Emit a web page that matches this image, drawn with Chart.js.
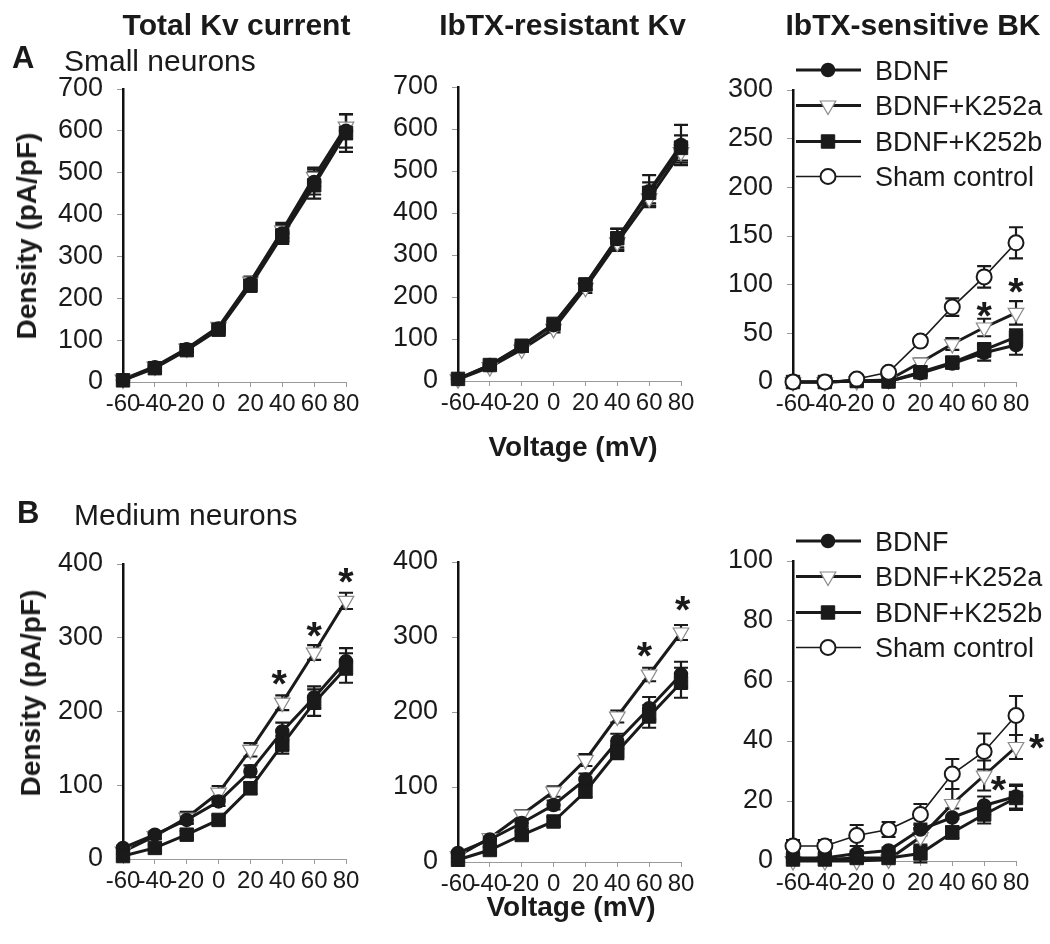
<!DOCTYPE html>
<html><head><meta charset="utf-8">
<script src="https://cdn.jsdelivr.net/npm/chart.js@4.4.1/dist/chart.umd.min.js"></script>
<style>
html,body{margin:0;padding:0;background:#fff;}
#fig{position:relative;width:1050px;height:944px;overflow:hidden;background:#fff;font-family:"Liberation Sans",Arial,Helvetica,sans-serif;color:#1a1a1a;}
#fig canvas{position:absolute;}
.t{position:absolute;white-space:nowrap;line-height:1;margin:0;}
.b{font-weight:bold;}
</style></head><body>
<div id="fig">
<canvas id="cA1"></canvas><canvas id="cA2"></canvas><canvas id="cA3"></canvas>
<canvas id="cB1"></canvas><canvas id="cB2"></canvas><canvas id="cB3"></canvas>
<div class="t b" style="font-size:30px;left:236.5px;top:9.6px;transform:translateX(-50%);">Total Kv current</div>
<div class="t b" style="font-size:30px;left:562.5px;top:9.6px;transform:translateX(-50%);">IbTX-resistant Kv</div>
<div class="t b" style="font-size:30px;left:913px;top:9.6px;transform:translateX(-50%);">IbTX-sensitive BK</div>
<div class="t b" style="font-size:31px;left:12px;top:41.8px;">A</div>
<div class="t" style="font-size:30px;left:64px;top:45.6px;">Small neurons</div>
<div class="t b" style="font-size:31px;left:17px;top:496.8px;">B</div>
<div class="t" style="font-size:30px;left:74px;top:499.6px;">Medium neurons</div>
<div class="t b" style="font-size:28px;left:26.8px;top:236px;transform:translate(-50%,-50%) rotate(-90deg);">Density (pA/pF)</div>
<div class="t b" style="font-size:28px;left:31.3px;top:693px;transform:translate(-50%,-50%) rotate(-90deg);">Density (pA/pF)</div>
<div class="t b" style="font-size:28px;left:573px;top:433.3px;transform:translateX(-50%);">Voltage (mV)</div>
<div class="t b" style="font-size:28px;left:571px;top:893.3px;transform:translateX(-50%);">Voltage (mV)</div>
</div>
<script>
// ---------- data ----------
const voltages = [-60, -40, -20, 0, 20, 40, 60, 80];
const xTicks = [-60, -40, -20, 0, 20, 40, 60, 80];
const seriesNames = ['BDNF', 'BDNF+K252a', 'BDNF+K252b', 'Sham control'];

const yTicksKv = [0, 100, 200, 300, 400, 500, 600, 700];
const yTicksBKsmall = [0, 50, 100, 150, 200, 250, 300];
const yTicksMedium = [0, 100, 200, 300, 400];
const yTicksBKmedium = [0, 20, 40, 60, 80, 100];

// A, small neurons: total Kv current
const smallTotal_BDNF = [5, 35, 78, 128, 235, 355, 478, 600];
const smallTotal_BDNF_err = [3, 4, 6, 8, 12, 20, 30, 40];
const smallTotal_K252a = [6, 37, 80, 132, 240, 362, 490, 610];
const smallTotal_K252a_err = [3, 4, 6, 8, 12, 18, 22, 30];
const smallTotal_K252b = [4, 33, 76, 125, 230, 350, 470, 595];
const smallTotal_K252b_err = [3, 4, 6, 8, 12, 20, 32, 45];

// A, small neurons: IbTX-resistant Kv
const smallRes_BDNF = [5, 38, 82, 133, 229, 338, 452, 562];
const smallRes_BDNF_err = [3, 4, 6, 8, 12, 25, 38, 48];
const smallRes_K252a = [4, 33, 75, 124, 222, 330, 435, 545];
const smallRes_K252a_err = [3, 4, 6, 8, 12, 20, 18, 25];
const smallRes_K252b = [5, 38, 84, 136, 230, 340, 448, 555];
const smallRes_K252b_err = [3, 4, 6, 8, 12, 22, 25, 30];

// A, small neurons: IbTX-sensitive BK
const smallBK_BDNF = [0, 0, 1, 0.5, 9, 19, 30, 38];
const smallBK_BDNF_err = [0, 0, 0, 0, 3, 5, 8, 10];
const smallBK_K252a = [0, 0, 1, 2, 20, 39, 56, 71];
const smallBK_K252a_err = [0, 0, 0, 1, 4, 6, 9, 12];
const smallBK_K252b = [0, 0, 1, 0.5, 10, 20, 33, 46];
const smallBK_K252b_err = [0, 0, 0, 0, 3, 5, 7, 8];
const smallBK_Sham = [0, 0, 3, 10, 42, 77, 108, 143];
const smallBK_Sham_err = [1, 1, 1, 2, 4, 9, 11, 16];
const smallBK_stars = [[60, 75], [80, 99]];

// B, medium neurons: total Kv current
const medTotal_BDNF = [15, 33, 53, 78, 119, 173, 219, 268];
const medTotal_BDNF_err = [3, 4, 5, 6, 8, 12, 15, 18];
const medTotal_K252a = [10, 31, 56, 90, 148, 212, 280, 350];
const medTotal_K252a_err = [3, 4, 8, 9, 9, 10, 10, 11];
const medTotal_K252b = [4, 15, 33, 53, 96, 155, 212, 259];
const medTotal_K252b_err = [3, 4, 5, 6, 8, 12, 18, 20];
const medTotal_stars = [[38, 246], [60, 311], [80, 384]];

// B, medium neurons: IbTX-resistant Kv
const medRes_BDNF = [12, 30, 52, 76, 110, 161, 205, 250];
const medRes_BDNF_err = [3, 4, 5, 6, 8, 10, 15, 17];
const medRes_K252a = [8, 32, 63, 94, 136, 194, 250, 306];
const medRes_K252a_err = [3, 4, 6, 7, 8, 8, 9, 10];
const medRes_K252b = [3, 16, 36, 54, 94, 147, 194, 239];
const medRes_K252b_err = [3, 4, 5, 6, 8, 10, 15, 20];
const medRes_stars = [[57, 283], [81, 345]];

// B, medium neurons: IbTX-sensitive BK
const medBK_BDNF = [1, 1, 2.5, 3.5, 10.5, 14.5, 18.5, 21.5];
const medBK_BDNF_err = [0.5, 0.5, 1, 1, 2, 3, 3, 4];
const medBK_K252a = [0, 0, 0, 0.5, 8, 19, 28.5, 38];
const medBK_K252a_err = [0.5, 0.5, 0.5, 0.5, 3, 5, 5, 4];
const medBK_K252b = [0.5, 0.5, 1, 1, 2.5, 9.5, 15.5, 21];
const medBK_K252b_err = [0.5, 0.5, 1, 0.5, 3, 2, 3, 4];
const medBK_Sham = [5, 5, 8.5, 10.5, 15.5, 29, 36.5, 48.5];
const medBK_Sham_err = [2, 2, 3.5, 2.5, 3.5, 5, 6, 6.5];
const medBK_stars = [[69, 26], [93, 40]];

// ---------- styles ----------
const FONT = '"Liberation Sans", Arial, Helvetica, sans-serif';
const INK = '#1a1a1a';
const STYLES = {
  'BDNF': {borderColor: INK, borderWidth: 3, pointStyle: 'circle', pointRadius: 6.5, pointBackgroundColor: INK, pointBorderColor: INK, pointBorderWidth: 1.5, order: 2},
  'BDNF+K252a': {borderColor: INK, borderWidth: 3, pointStyle: 'triangle', pointRotation: 180, pointRadius: 9, pointBackgroundColor: '#fff', pointBorderColor: '#8a8a8a', pointBorderWidth: 1.2, order: 3},
  'BDNF+K252b': {borderColor: INK, borderWidth: 3, pointStyle: 'rect', pointRadius: 9.5, pointBackgroundColor: INK, pointBorderColor: INK, pointBorderWidth: 1, order: 1},
  'Sham control': {borderColor: INK, borderWidth: 1.6, pointStyle: 'circle', pointRadius: 7.5, pointBackgroundColor: '#fff', pointBorderColor: INK, pointBorderWidth: 2, order: 0}
};

Chart.defaults.font.family = FONT;
Chart.defaults.color = INK;

// ---------- plugins ----------
const errorBarPlugin = {
  id: 'errorBars',
  beforeDatasetsDraw(chart) {
    const {ctx} = chart; const xs = chart.scales.x, ys = chart.scales.y;
    ctx.save();
    ctx.strokeStyle = INK; ctx.lineWidth = 2.2; ctx.lineCap = 'butt';
    chart.data.datasets.forEach(ds => {
      if (!ds.errors) return;
      ds.data.forEach((p, j) => {
        const e = ds.errors[j]; if (!e) return;
        const px = xs.getPixelForValue(p.x);
        const top = ys.getPixelForValue(p.y + e), bot = ys.getPixelForValue(p.y - e);
        ctx.beginPath();
        ctx.moveTo(px, top); ctx.lineTo(px, bot);
        ctx.moveTo(px - 7, top); ctx.lineTo(px + 7, top);
        ctx.moveTo(px - 7, bot); ctx.lineTo(px + 7, bot);
        ctx.stroke();
      });
    });
    ctx.restore();
  }
};

const starPlugin = {
  id: 'stars',
  afterDatasetsDraw(chart, args, opts) {
    const pts = opts.points || []; if (!pts.length) return;
    const {ctx} = chart; const xs = chart.scales.x, ys = chart.scales.y;
    ctx.save();
    ctx.font = 'bold 100px ' + FONT;
    const m = ctx.measureText('*');
    const h = (m.actualBoundingBoxAscent + m.actualBoundingBoxDescent) || 30;
    const size = 100 * 15 / h;
    ctx.font = 'bold ' + size + 'px ' + FONT;
    const m2 = ctx.measureText('*');
    const asc = m2.actualBoundingBoxAscent, desc = m2.actualBoundingBoxDescent;
    ctx.fillStyle = INK; ctx.textAlign = 'center'; ctx.textBaseline = 'alphabetic';
    pts.forEach(([sx, sy]) => {
      const cx = xs.getPixelForValue(sx), cy = ys.getPixelForValue(sy);
      ctx.fillText('*', cx, cy - (desc - asc) / 2);
    });
    ctx.restore();
  }
};

function drawMarker(ctx, st, x, y) {
  const r = st.pointRadius;
  ctx.save();
  ctx.fillStyle = st.pointBackgroundColor; ctx.strokeStyle = st.pointBorderColor; ctx.lineWidth = st.pointBorderWidth;
  ctx.beginPath();
  if (st.pointStyle === 'circle') {
    ctx.arc(x, y, r, 0, Math.PI * 2);
  } else if (st.pointStyle === 'triangle') {
    let a = (st.pointRotation || 0) * Math.PI / 180;
    ctx.moveTo(x + Math.sin(a) * r, y - Math.cos(a) * r);
    a += 2 * Math.PI / 3; ctx.lineTo(x + Math.sin(a) * r, y - Math.cos(a) * r);
    a += 2 * Math.PI / 3; ctx.lineTo(x + Math.sin(a) * r, y - Math.cos(a) * r);
    ctx.closePath();
  } else {
    const s = r * Math.SQRT1_2; ctx.rect(x - s, y - s, 2 * s, 2 * s);
  }
  ctx.fill(); ctx.stroke();
  ctx.restore();
}

const legendPlugin = {
  id: 'seriesLegend',
  afterDraw(chart, args, opts) {
    if (!opts.show) return;
    const {ctx, chartArea} = chart;
    const rows = [-20, 15.5, 51.5, 86.5];
    ctx.save();
    ctx.font = '27px ' + FONT; ctx.fillStyle = INK; ctx.textBaseline = 'alphabetic'; ctx.textAlign = 'left';
    seriesNames.forEach((name, i) => {
      const st = STYLES[name];
      const y = chartArea.top + rows[i];
      const x0 = chartArea.left + 3, x1 = chartArea.left + 68, xm = chartArea.left + 35;
      ctx.strokeStyle = st.borderColor; ctx.lineWidth = st.borderWidth;
      ctx.beginPath(); ctx.moveTo(x0, y); ctx.lineTo(x1, y); ctx.stroke();
      drawMarker(ctx, st, xm, y);
      ctx.fillStyle = INK;
      ctx.fillText(name, chartArea.left + 82, y + 0.358 * 27);
    });
    ctx.restore();
  }
};

// ---------- chart builder ----------
function buildPanel(id, box, area, yTicks, series, stars, showLegend) {
  const canvas = document.getElementById(id);
  canvas.width = box.w; canvas.height = box.h;
  canvas.style.left = box.x + 'px'; canvas.style.top = box.y + 'px';
  canvas.style.width = box.w + 'px'; canvas.style.height = box.h + 'px';
  const datasets = series.map(s => Object.assign({
    label: s.name,
    data: voltages.map((v, i) => ({x: v, y: s.values[i]})),
    errors: s.errors,
    fill: false, tension: 0, clip: false
  }, STYLES[s.name]));
  return new Chart(canvas, {
    type: 'line',
    data: {datasets},
    options: {
      responsive: false, animation: false, devicePixelRatio: 1,
      layout: {padding: {left: 0, top: area.t - box.y, right: box.x + box.w - area.r, bottom: 0}},
      plugins: {legend: {display: false}, tooltip: {enabled: false}, stars: {points: stars}, seriesLegend: {show: showLegend}},
      scales: {
        x: {
          type: 'linear', min: xTicks[0], max: xTicks[xTicks.length - 1],
          afterBuildTicks: sc => { sc.ticks = xTicks.map(v => ({value: v})); },
          afterFit: sc => { sc.height = box.y + box.h - area.b; },
          ticks: {autoSkip: false, maxRotation: 0, minRotation: 0, padding: 3, color: INK, font: {size: 24}, callback: v => String(v)},
          grid: {drawOnChartArea: false, drawTicks: true, tickLength: 5, color: '#9a9a9a', lineWidth: 1},
          border: {display: true, color: '#9a9a9a', width: 1}
        },
        y: {
          type: 'linear', min: yTicks[0], max: yTicks[yTicks.length - 1],
          afterBuildTicks: sc => { sc.ticks = yTicks.map(v => ({value: v})); },
          afterFit: sc => { sc.width = area.l - box.x; },
          ticks: {padding: 14, color: INK, font: {size: 27}, callback: v => String(v)},
          grid: {drawOnChartArea: false, drawTicks: true, tickLength: 6, color: '#9a9a9a', lineWidth: 1},
          border: {display: true, color: '#111', width: 2.5}
        }
      }
    },
    plugins: [errorBarPlugin, starPlugin, legendPlugin]
  });
}

const S = (name, values, errors) => ({name, values, errors});

buildPanel('cA1', {x: 0, y: 40, w: 365, h: 390}, {l: 123, r: 346, t: 89, b: 382}, yTicksKv, [
  S('BDNF', smallTotal_BDNF, smallTotal_BDNF_err),
  S('BDNF+K252a', smallTotal_K252a, smallTotal_K252a_err),
  S('BDNF+K252b', smallTotal_K252b, smallTotal_K252b_err)
], [], false);

buildPanel('cA2', {x: 340, y: 40, w: 360, h: 390}, {l: 458, r: 681, t: 87, b: 381}, yTicksKv, [
  S('BDNF', smallRes_BDNF, smallRes_BDNF_err),
  S('BDNF+K252a', smallRes_K252a, smallRes_K252a_err),
  S('BDNF+K252b', smallRes_K252b, smallRes_K252b_err)
], [], false);

buildPanel('cA3', {x: 690, y: 40, w: 360, h: 390}, {l: 793, r: 1016, t: 90, b: 382}, yTicksBKsmall, [
  S('BDNF', smallBK_BDNF, smallBK_BDNF_err),
  S('BDNF+K252a', smallBK_K252a, smallBK_K252a_err),
  S('BDNF+K252b', smallBK_K252b, smallBK_K252b_err),
  S('Sham control', smallBK_Sham, smallBK_Sham_err)
], smallBK_stars, true);

buildPanel('cB1', {x: 0, y: 500, w: 365, h: 410}, {l: 123, r: 346, t: 564, b: 859}, yTicksMedium, [
  S('BDNF', medTotal_BDNF, medTotal_BDNF_err),
  S('BDNF+K252a', medTotal_K252a, medTotal_K252a_err),
  S('BDNF+K252b', medTotal_K252b, medTotal_K252b_err)
], medTotal_stars, false);

buildPanel('cB2', {x: 340, y: 500, w: 360, h: 410}, {l: 458, r: 681, t: 562, b: 862}, yTicksMedium, [
  S('BDNF', medRes_BDNF, medRes_BDNF_err),
  S('BDNF+K252a', medRes_K252a, medRes_K252a_err),
  S('BDNF+K252b', medRes_K252b, medRes_K252b_err)
], medRes_stars, false);

buildPanel('cB3', {x: 690, y: 500, w: 360, h: 410}, {l: 793, r: 1016, t: 561, b: 861}, yTicksBKmedium, [
  S('BDNF', medBK_BDNF, medBK_BDNF_err),
  S('BDNF+K252a', medBK_K252a, medBK_K252a_err),
  S('BDNF+K252b', medBK_K252b, medBK_K252b_err),
  S('Sham control', medBK_Sham, medBK_Sham_err)
], medBK_stars, true);
</script>
</body></html>
